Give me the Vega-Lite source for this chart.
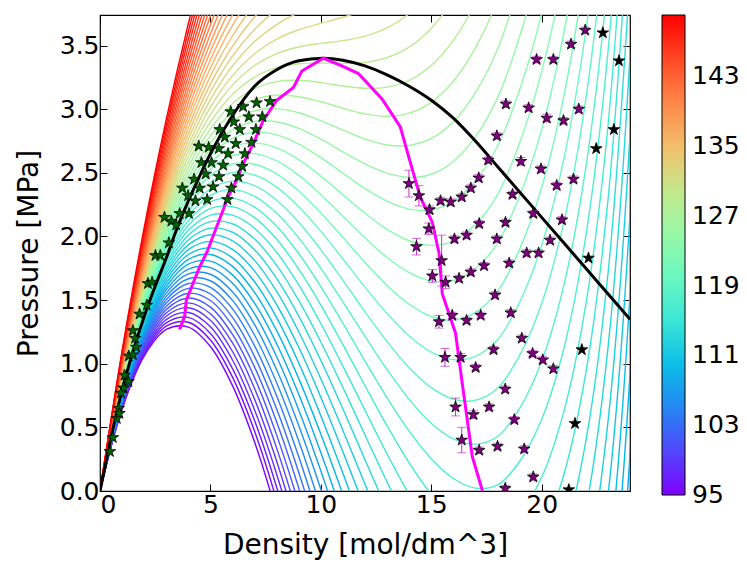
{
"$schema": "https://vega.github.io/schema/vega-lite/v6.json",
"width": 530, "height": 476,
"autosize": {"type": "none"},
"padding": {"left": 100, "top": 15, "right": 117, "bottom": 72},
"background": "white",
"config": {
 "view": {"stroke": "black", "strokeWidth": 1.2},
 "font": "DejaVu Sans",
 "axis": {"domain": false, "grid": false, "tickColor": "black", "tickSize": -7, "tickWidth": 1, "labelFont": "DejaVu Sans", "labelFontSize": 25, "labelColor": "black", "titleFont": "DejaVu Sans", "titleFontSize": 28, "titleFontWeight": "normal", "titleColor": "black"}
},
"datasets": {
"iso": [
{"T":95,"d":0,"p":0},{"T":96,"d":0,"p":0},{"T":97,"d":0,"p":0},{"T":98,"d":0,"p":0},{"T":99,"d":0,"p":0},{"T":100,"d":0,"p":0},{"T":101,"d":0,"p":0},{"T":102,"d":0,"p":0},{"T":103,"d":0,"p":0},{"T":104,"d":0,"p":0},{"T":105,"d":0,"p":0},{"T":106,"d":0,"p":0},{"T":107,"d":0,"p":0},{"T":108,"d":0,"p":0},{"T":109,"d":0,"p":0},{"T":110,"d":0,"p":0},{"T":111,"d":0,"p":0},{"T":112,"d":0,"p":0},{"T":113,"d":0,"p":0},{"T":114,"d":0,"p":0},{"T":115,"d":0,"p":0},{"T":116,"d":0,"p":0},{"T":117,"d":0,"p":0},{"T":118,"d":0,"p":0},{"T":119,"d":0,"p":0},{"T":120,"d":0,"p":0},{"T":121,"d":0,"p":0},{"T":122,"d":0,"p":0},{"T":123,"d":0,"p":0},{"T":124,"d":0,"p":0},{"T":125,"d":0,"p":0},{"T":126,"d":0,"p":0},{"T":127,"d":0,"p":0},{"T":128,"d":0,"p":0},{"T":129,"d":0,"p":0},{"T":130,"d":0,"p":0},{"T":131,"d":0,"p":0},{"T":132,"d":0,"p":0},{"T":133,"d":0,"p":0},{"T":134,"d":0,"p":0},{"T":135,"d":0,"p":0},{"T":136,"d":0,"p":0},{"T":137,"d":0,"p":0},{"T":138,"d":0,"p":0},{"T":139,"d":0,"p":0},{"T":140,"d":0,"p":0},{"T":141,"d":0,"p":0},{"T":142,"d":0,"p":0},{"T":143,"d":0,"p":0},{"T":144,"d":0,"p":0},{"T":145,"d":0,"p":0},{"T":146,"d":0,"p":0},{"T":147,"d":0,"p":0},{"T":148,"d":0,"p":0},{"T":149,"d":0,"p":0},{"T":150,"d":0,"p":0},
{"T":95,"d":1,"p":0.643},{"T":96,"d":1,"p":0.650},{"T":97,"d":1,"p":0.657},{"T":98,"d":1,"p":0.664},{"T":99,"d":1,"p":0.671},{"T":100,"d":1,"p":0.678},{"T":101,"d":1,"p":0.685},{"T":102,"d":1,"p":0.692},{"T":103,"d":1,"p":0.699},{"T":104,"d":1,"p":0.706},{"T":105,"d":1,"p":0.713},{"T":106,"d":1,"p":0.720},{"T":107,"d":1,"p":0.727},{"T":108,"d":1,"p":0.734},{"T":109,"d":1,"p":0.741},{"T":110,"d":1,"p":0.748},{"T":111,"d":1,"p":0.755},{"T":112,"d":1,"p":0.762},{"T":113,"d":1,"p":0.769},{"T":114,"d":1,"p":0.776},{"T":115,"d":1,"p":0.783},{"T":116,"d":1,"p":0.790},{"T":117,"d":1,"p":0.797},{"T":118,"d":1,"p":0.804},{"T":119,"d":1,"p":0.811},{"T":120,"d":1,"p":0.818},{"T":121,"d":1,"p":0.825},{"T":122,"d":1,"p":0.832},{"T":123,"d":1,"p":0.839},{"T":124,"d":1,"p":0.846},{"T":125,"d":1,"p":0.853},{"T":126,"d":1,"p":0.860},{"T":127,"d":1,"p":0.868},{"T":128,"d":1,"p":0.875},{"T":129,"d":1,"p":0.883},{"T":130,"d":1,"p":0.891},{"T":131,"d":1,"p":0.900},{"T":132,"d":1,"p":0.908},{"T":133,"d":1,"p":0.917},{"T":134,"d":1,"p":0.926},{"T":135,"d":1,"p":0.935},{"T":136,"d":1,"p":0.945},{"T":137,"d":1,"p":0.954},{"T":138,"d":1,"p":0.964},{"T":139,"d":1,"p":0.974},{"T":140,"d":1,"p":0.985},{"T":141,"d":1,"p":0.995},{"T":142,"d":1,"p":1.006},{"T":143,"d":1,"p":1.017},{"T":144,"d":1,"p":1.029},{"T":145,"d":1,"p":1.040},{"T":146,"d":1,"p":1.052},{"T":147,"d":1,"p":1.064},{"T":148,"d":1,"p":1.076},{"T":149,"d":1,"p":1.089},{"T":150,"d":1,"p":1.102},
{"T":95,"d":2,"p":1.060},{"T":96,"d":2,"p":1.076},{"T":97,"d":2,"p":1.091},{"T":98,"d":2,"p":1.107},{"T":99,"d":2,"p":1.123},{"T":100,"d":2,"p":1.138},{"T":101,"d":2,"p":1.154},{"T":102,"d":2,"p":1.170},{"T":103,"d":2,"p":1.185},{"T":104,"d":2,"p":1.201},{"T":105,"d":2,"p":1.217},{"T":106,"d":2,"p":1.232},{"T":107,"d":2,"p":1.248},{"T":108,"d":2,"p":1.264},{"T":109,"d":2,"p":1.280},{"T":110,"d":2,"p":1.295},{"T":111,"d":2,"p":1.311},{"T":112,"d":2,"p":1.327},{"T":113,"d":2,"p":1.342},{"T":114,"d":2,"p":1.358},{"T":115,"d":2,"p":1.374},{"T":116,"d":2,"p":1.389},{"T":117,"d":2,"p":1.405},{"T":118,"d":2,"p":1.421},{"T":119,"d":2,"p":1.436},{"T":120,"d":2,"p":1.452},{"T":121,"d":2,"p":1.468},{"T":122,"d":2,"p":1.483},{"T":123,"d":2,"p":1.499},{"T":124,"d":2,"p":1.515},{"T":125,"d":2,"p":1.530},{"T":126,"d":2,"p":1.546},{"T":127,"d":2,"p":1.563},{"T":128,"d":2,"p":1.580},{"T":129,"d":2,"p":1.597},{"T":130,"d":2,"p":1.615},{"T":131,"d":2,"p":1.633},{"T":132,"d":2,"p":1.652},{"T":133,"d":2,"p":1.671},{"T":134,"d":2,"p":1.691},{"T":135,"d":2,"p":1.711},{"T":136,"d":2,"p":1.731},{"T":137,"d":2,"p":1.752},{"T":138,"d":2,"p":1.774},{"T":139,"d":2,"p":1.796},{"T":140,"d":2,"p":1.818},{"T":141,"d":2,"p":1.841},{"T":142,"d":2,"p":1.865},{"T":143,"d":2,"p":1.888},{"T":144,"d":2,"p":1.913},{"T":145,"d":2,"p":1.938},{"T":146,"d":2,"p":1.963},{"T":147,"d":2,"p":1.989},{"T":148,"d":2,"p":2.015},{"T":149,"d":2,"p":2.042},{"T":150,"d":2,"p":2.069},
{"T":95,"d":3,"p":1.269},{"T":96,"d":3,"p":1.295},{"T":97,"d":3,"p":1.321},{"T":98,"d":3,"p":1.347},{"T":99,"d":3,"p":1.373},{"T":100,"d":3,"p":1.399},{"T":101,"d":3,"p":1.425},{"T":102,"d":3,"p":1.451},{"T":103,"d":3,"p":1.477},{"T":104,"d":3,"p":1.503},{"T":105,"d":3,"p":1.529},{"T":106,"d":3,"p":1.555},{"T":107,"d":3,"p":1.581},{"T":108,"d":3,"p":1.607},{"T":109,"d":3,"p":1.633},{"T":110,"d":3,"p":1.659},{"T":111,"d":3,"p":1.685},{"T":112,"d":3,"p":1.711},{"T":113,"d":3,"p":1.737},{"T":114,"d":3,"p":1.763},{"T":115,"d":3,"p":1.789},{"T":116,"d":3,"p":1.815},{"T":117,"d":3,"p":1.841},{"T":118,"d":3,"p":1.867},{"T":119,"d":3,"p":1.893},{"T":120,"d":3,"p":1.919},{"T":121,"d":3,"p":1.945},{"T":122,"d":3,"p":1.971},{"T":123,"d":3,"p":1.997},{"T":124,"d":3,"p":2.023},{"T":125,"d":3,"p":2.049},{"T":126,"d":3,"p":2.076},{"T":127,"d":3,"p":2.103},{"T":128,"d":3,"p":2.131},{"T":129,"d":3,"p":2.159},{"T":130,"d":3,"p":2.188},{"T":131,"d":3,"p":2.218},{"T":132,"d":3,"p":2.249},{"T":133,"d":3,"p":2.280},{"T":134,"d":3,"p":2.312},{"T":135,"d":3,"p":2.345},{"T":136,"d":3,"p":2.378},{"T":137,"d":3,"p":2.412},{"T":138,"d":3,"p":2.447},{"T":139,"d":3,"p":2.482},{"T":140,"d":3,"p":2.518},{"T":141,"d":3,"p":2.555},{"T":142,"d":3,"p":2.593},{"T":143,"d":3,"p":2.631},{"T":144,"d":3,"p":2.670},{"T":145,"d":3,"p":2.710},{"T":146,"d":3,"p":2.750},{"T":147,"d":3,"p":2.791},{"T":148,"d":3,"p":2.833},{"T":149,"d":3,"p":2.876},{"T":150,"d":3,"p":2.919},
{"T":95,"d":4,"p":1.288},{"T":96,"d":4,"p":1.326},{"T":97,"d":4,"p":1.364},{"T":98,"d":4,"p":1.402},{"T":99,"d":4,"p":1.440},{"T":100,"d":4,"p":1.478},{"T":101,"d":4,"p":1.516},{"T":102,"d":4,"p":1.554},{"T":103,"d":4,"p":1.592},{"T":104,"d":4,"p":1.630},{"T":105,"d":4,"p":1.668},{"T":106,"d":4,"p":1.706},{"T":107,"d":4,"p":1.744},{"T":108,"d":4,"p":1.782},{"T":109,"d":4,"p":1.820},{"T":110,"d":4,"p":1.858},{"T":111,"d":4,"p":1.896},{"T":112,"d":4,"p":1.934},{"T":113,"d":4,"p":1.972},{"T":114,"d":4,"p":2.010},{"T":115,"d":4,"p":2.048},{"T":116,"d":4,"p":2.086},{"T":117,"d":4,"p":2.124},{"T":118,"d":4,"p":2.162},{"T":119,"d":4,"p":2.200},{"T":120,"d":4,"p":2.238},{"T":121,"d":4,"p":2.276},{"T":122,"d":4,"p":2.314},{"T":123,"d":4,"p":2.352},{"T":124,"d":4,"p":2.390},{"T":125,"d":4,"p":2.428},{"T":126,"d":4,"p":2.467},{"T":127,"d":4,"p":2.506},{"T":128,"d":4,"p":2.546},{"T":129,"d":4,"p":2.588},{"T":130,"d":4,"p":2.630},{"T":131,"d":4,"p":2.673},{"T":132,"d":4,"p":2.717},{"T":133,"d":4,"p":2.762},{"T":134,"d":4,"p":2.808},{"T":135,"d":4,"p":2.855},{"T":136,"d":4,"p":2.903},{"T":137,"d":4,"p":2.951},{"T":138,"d":4,"p":3.001},{"T":139,"d":4,"p":3.052},{"T":140,"d":4,"p":3.103},{"T":141,"d":4,"p":3.156},{"T":142,"d":4,"p":3.209},{"T":143,"d":4,"p":3.264},{"T":144,"d":4,"p":3.319},{"T":145,"d":4,"p":3.375},{"T":146,"d":4,"p":3.432},{"T":147,"d":4,"p":3.491},{"T":148,"d":4,"p":3.550},{"T":149,"d":4,"p":3.610},{"T":150,"d":4,"p":3.671},
{"T":95,"d":5,"p":1.135},{"T":96,"d":5,"p":1.187},{"T":97,"d":5,"p":1.238},{"T":98,"d":5,"p":1.290},{"T":99,"d":5,"p":1.342},{"T":100,"d":5,"p":1.393},{"T":101,"d":5,"p":1.445},{"T":102,"d":5,"p":1.497},{"T":103,"d":5,"p":1.548},{"T":104,"d":5,"p":1.600},{"T":105,"d":5,"p":1.652},{"T":106,"d":5,"p":1.703},{"T":107,"d":5,"p":1.755},{"T":108,"d":5,"p":1.806},{"T":109,"d":5,"p":1.858},{"T":110,"d":5,"p":1.910},{"T":111,"d":5,"p":1.961},{"T":112,"d":5,"p":2.013},{"T":113,"d":5,"p":2.065},{"T":114,"d":5,"p":2.116},{"T":115,"d":5,"p":2.168},{"T":116,"d":5,"p":2.220},{"T":117,"d":5,"p":2.271},{"T":118,"d":5,"p":2.323},{"T":119,"d":5,"p":2.375},{"T":120,"d":5,"p":2.426},{"T":121,"d":5,"p":2.478},{"T":122,"d":5,"p":2.530},{"T":123,"d":5,"p":2.581},{"T":124,"d":5,"p":2.633},{"T":125,"d":5,"p":2.685},{"T":126,"d":5,"p":2.737},{"T":127,"d":5,"p":2.790},{"T":128,"d":5,"p":2.845},{"T":129,"d":5,"p":2.900},{"T":130,"d":5,"p":2.957},{"T":131,"d":5,"p":3.016},{"T":132,"d":5,"p":3.075},{"T":133,"d":5,"p":3.135},{"T":134,"d":5,"p":3.197},{"T":135,"d":5,"p":3.260},{"T":136,"d":5,"p":3.323},{"T":137,"d":5,"p":3.389},{"T":138,"d":5,"p":3.455},{"T":139,"d":5,"p":3.522},{"T":140,"d":5,"p":3.591},{"T":141,"d":5,"p":3.661},{"T":142,"d":5,"p":3.732},{"T":143,"d":5,"p":3.804},{"T":144,"d":5,"p":3.877},{"T":145,"d":5,"p":3.952},{"T":146,"d":5,"p":4.027},{"T":147,"d":5,"p":4.104},{"T":148,"d":5,"p":4.182},{"T":149,"d":5,"p":4.261},{"T":150,"d":5,"p":4.342},
{"T":95,"d":6,"p":0.828},{"T":96,"d":6,"p":0.895},{"T":97,"d":6,"p":0.962},{"T":98,"d":6,"p":1.029},{"T":99,"d":6,"p":1.096},{"T":100,"d":6,"p":1.163},{"T":101,"d":6,"p":1.230},{"T":102,"d":6,"p":1.297},{"T":103,"d":6,"p":1.364},{"T":104,"d":6,"p":1.431},{"T":105,"d":6,"p":1.498},{"T":106,"d":6,"p":1.565},{"T":107,"d":6,"p":1.632},{"T":108,"d":6,"p":1.698},{"T":109,"d":6,"p":1.765},{"T":110,"d":6,"p":1.832},{"T":111,"d":6,"p":1.899},{"T":112,"d":6,"p":1.966},{"T":113,"d":6,"p":2.033},{"T":114,"d":6,"p":2.100},{"T":115,"d":6,"p":2.167},{"T":116,"d":6,"p":2.234},{"T":117,"d":6,"p":2.301},{"T":118,"d":6,"p":2.368},{"T":119,"d":6,"p":2.435},{"T":120,"d":6,"p":2.502},{"T":121,"d":6,"p":2.569},{"T":122,"d":6,"p":2.636},{"T":123,"d":6,"p":2.703},{"T":124,"d":6,"p":2.770},{"T":125,"d":6,"p":2.837},{"T":126,"d":6,"p":2.905},{"T":127,"d":6,"p":2.974},{"T":128,"d":6,"p":3.044},{"T":129,"d":6,"p":3.116},{"T":130,"d":6,"p":3.189},{"T":131,"d":6,"p":3.264},{"T":132,"d":6,"p":3.340},{"T":133,"d":6,"p":3.417},{"T":134,"d":6,"p":3.496},{"T":135,"d":6,"p":3.577},{"T":136,"d":6,"p":3.658},{"T":137,"d":6,"p":3.741},{"T":138,"d":6,"p":3.826},{"T":139,"d":6,"p":3.912},{"T":140,"d":6,"p":3.999},{"T":141,"d":6,"p":4.088},{"T":142,"d":6,"p":4.178},{"T":143,"d":6,"p":4.270},{"T":144,"d":6,"p":4.362},{"T":145,"d":6,"p":4.457},{"T":146,"d":6,"p":4.553},{"T":147,"d":6,"p":4.650},{"T":148,"d":6,"p":4.748},{"T":149,"d":6,"p":4.848},{"T":150,"d":6,"p":4.950},
{"T":95,"d":7,"p":0.385},{"T":96,"d":7,"p":0.469},{"T":97,"d":7,"p":0.553},{"T":98,"d":7,"p":0.637},{"T":99,"d":7,"p":0.721},{"T":100,"d":7,"p":0.805},{"T":101,"d":7,"p":0.889},{"T":102,"d":7,"p":0.973},{"T":103,"d":7,"p":1.056},{"T":104,"d":7,"p":1.140},{"T":105,"d":7,"p":1.224},{"T":106,"d":7,"p":1.308},{"T":107,"d":7,"p":1.392},{"T":108,"d":7,"p":1.476},{"T":109,"d":7,"p":1.560},{"T":110,"d":7,"p":1.644},{"T":111,"d":7,"p":1.728},{"T":112,"d":7,"p":1.812},{"T":113,"d":7,"p":1.896},{"T":114,"d":7,"p":1.980},{"T":115,"d":7,"p":2.064},{"T":116,"d":7,"p":2.148},{"T":117,"d":7,"p":2.231},{"T":118,"d":7,"p":2.315},{"T":119,"d":7,"p":2.399},{"T":120,"d":7,"p":2.483},{"T":121,"d":7,"p":2.567},{"T":122,"d":7,"p":2.651},{"T":123,"d":7,"p":2.735},{"T":124,"d":7,"p":2.819},{"T":125,"d":7,"p":2.903},{"T":126,"d":7,"p":2.988},{"T":127,"d":7,"p":3.074},{"T":128,"d":7,"p":3.162},{"T":129,"d":7,"p":3.252},{"T":130,"d":7,"p":3.343},{"T":131,"d":7,"p":3.436},{"T":132,"d":7,"p":3.531},{"T":133,"d":7,"p":3.627},{"T":134,"d":7,"p":3.724},{"T":135,"d":7,"p":3.824},{"T":136,"d":7,"p":3.925},{"T":137,"d":7,"p":4.028},{"T":138,"d":7,"p":4.132},{"T":139,"d":7,"p":4.238},{"T":140,"d":7,"p":4.346},{"T":141,"d":7,"p":4.455},{"T":142,"d":7,"p":4.566},
{"T":95,"d":8,"p":-0.176},{"T":96,"d":8,"p":-0.073},{"T":97,"d":8,"p":0.029},{"T":98,"d":8,"p":0.132},{"T":99,"d":8,"p":0.234},{"T":100,"d":8,"p":0.337},{"T":101,"d":8,"p":0.439},{"T":102,"d":8,"p":0.542},{"T":103,"d":8,"p":0.644},{"T":104,"d":8,"p":0.747},{"T":105,"d":8,"p":0.850},{"T":106,"d":8,"p":0.952},{"T":107,"d":8,"p":1.055},{"T":108,"d":8,"p":1.157},{"T":109,"d":8,"p":1.260},{"T":110,"d":8,"p":1.362},{"T":111,"d":8,"p":1.465},{"T":112,"d":8,"p":1.568},{"T":113,"d":8,"p":1.670},{"T":114,"d":8,"p":1.773},{"T":115,"d":8,"p":1.875},{"T":116,"d":8,"p":1.978},{"T":117,"d":8,"p":2.080},{"T":118,"d":8,"p":2.183},{"T":119,"d":8,"p":2.285},{"T":120,"d":8,"p":2.388},{"T":121,"d":8,"p":2.491},{"T":122,"d":8,"p":2.593},{"T":123,"d":8,"p":2.696},{"T":124,"d":8,"p":2.798},{"T":125,"d":8,"p":2.901},{"T":126,"d":8,"p":3.004},{"T":127,"d":8,"p":3.110},{"T":128,"d":8,"p":3.217},{"T":129,"d":8,"p":3.326},{"T":130,"d":8,"p":3.437},{"T":131,"d":8,"p":3.550},{"T":132,"d":8,"p":3.665},{"T":133,"d":8,"p":3.781},{"T":134,"d":8,"p":3.900},{"T":135,"d":8,"p":4.020},{"T":136,"d":8,"p":4.142},
{"T":95,"d":9,"p":-0.837},{"T":96,"d":9,"p":-0.714},{"T":97,"d":9,"p":-0.591},{"T":98,"d":9,"p":-0.469},{"T":99,"d":9,"p":-0.346},{"T":100,"d":9,"p":-0.223},{"T":101,"d":9,"p":-0.100},{"T":102,"d":9,"p":0.023},{"T":103,"d":9,"p":0.146},{"T":104,"d":9,"p":0.269},{"T":105,"d":9,"p":0.392},{"T":106,"d":9,"p":0.514},{"T":107,"d":9,"p":0.637},{"T":108,"d":9,"p":0.760},{"T":109,"d":9,"p":0.883},{"T":110,"d":9,"p":1.006},{"T":111,"d":9,"p":1.129},{"T":112,"d":9,"p":1.251},{"T":113,"d":9,"p":1.374},{"T":114,"d":9,"p":1.497},{"T":115,"d":9,"p":1.620},{"T":116,"d":9,"p":1.743},{"T":117,"d":9,"p":1.866},{"T":118,"d":9,"p":1.989},{"T":119,"d":9,"p":2.111},{"T":120,"d":9,"p":2.234},{"T":121,"d":9,"p":2.357},{"T":122,"d":9,"p":2.480},{"T":123,"d":9,"p":2.603},{"T":124,"d":9,"p":2.726},{"T":125,"d":9,"p":2.849},{"T":126,"d":9,"p":2.972},{"T":127,"d":9,"p":3.098},{"T":128,"d":9,"p":3.227},{"T":129,"d":9,"p":3.357},{"T":130,"d":9,"p":3.489},{"T":131,"d":9,"p":3.624},{"T":132,"d":9,"p":3.760},{"T":133,"d":9,"p":3.899},{"T":134,"d":9,"p":4.039},
{"T":97,"d":10,"p":-1.290},{"T":98,"d":10,"p":-1.146},{"T":99,"d":10,"p":-1.001},{"T":100,"d":10,"p":-0.856},{"T":101,"d":10,"p":-0.711},{"T":102,"d":10,"p":-0.566},{"T":103,"d":10,"p":-0.422},{"T":104,"d":10,"p":-0.277},{"T":105,"d":10,"p":-0.132},{"T":106,"d":10,"p":0.013},{"T":107,"d":10,"p":0.158},{"T":108,"d":10,"p":0.302},{"T":109,"d":10,"p":0.447},{"T":110,"d":10,"p":0.592},{"T":111,"d":10,"p":0.737},{"T":112,"d":10,"p":0.882},{"T":113,"d":10,"p":1.026},{"T":114,"d":10,"p":1.171},{"T":115,"d":10,"p":1.316},{"T":116,"d":10,"p":1.461},{"T":117,"d":10,"p":1.606},{"T":118,"d":10,"p":1.750},{"T":119,"d":10,"p":1.895},{"T":120,"d":10,"p":2.040},{"T":121,"d":10,"p":2.185},{"T":122,"d":10,"p":2.330},{"T":123,"d":10,"p":2.474},{"T":124,"d":10,"p":2.619},{"T":125,"d":10,"p":2.764},{"T":126,"d":10,"p":2.910},{"T":127,"d":10,"p":3.058},{"T":128,"d":10,"p":3.209},{"T":129,"d":10,"p":3.362},{"T":130,"d":10,"p":3.517},{"T":131,"d":10,"p":3.675},{"T":132,"d":10,"p":3.835},
{"T":102,"d":11,"p":-1.208},{"T":103,"d":11,"p":-1.040},{"T":104,"d":11,"p":-0.871},{"T":105,"d":11,"p":-0.703},{"T":106,"d":11,"p":-0.535},{"T":107,"d":11,"p":-0.366},{"T":108,"d":11,"p":-0.198},{"T":109,"d":11,"p":-0.029},{"T":110,"d":11,"p":0.139},{"T":111,"d":11,"p":0.308},{"T":112,"d":11,"p":0.476},{"T":113,"d":11,"p":0.644},{"T":114,"d":11,"p":0.813},{"T":115,"d":11,"p":0.981},{"T":116,"d":11,"p":1.150},{"T":117,"d":11,"p":1.318},{"T":118,"d":11,"p":1.486},{"T":119,"d":11,"p":1.655},{"T":120,"d":11,"p":1.823},{"T":121,"d":11,"p":1.992},{"T":122,"d":11,"p":2.160},{"T":123,"d":11,"p":2.328},{"T":124,"d":11,"p":2.497},{"T":125,"d":11,"p":2.665},{"T":126,"d":11,"p":2.835},{"T":127,"d":11,"p":3.007},{"T":128,"d":11,"p":3.182},{"T":129,"d":11,"p":3.360},{"T":130,"d":11,"p":3.539},{"T":131,"d":11,"p":3.722},
{"T":106,"d":12,"p":-1.110},{"T":107,"d":12,"p":-0.916},{"T":108,"d":12,"p":-0.722},{"T":109,"d":12,"p":-0.529},{"T":110,"d":12,"p":-0.335},{"T":111,"d":12,"p":-0.141},{"T":112,"d":12,"p":0.053},{"T":113,"d":12,"p":0.246},{"T":114,"d":12,"p":0.440},{"T":115,"d":12,"p":0.634},{"T":116,"d":12,"p":0.827},{"T":117,"d":12,"p":1.021},{"T":118,"d":12,"p":1.215},{"T":119,"d":12,"p":1.408},{"T":120,"d":12,"p":1.602},{"T":121,"d":12,"p":1.796},{"T":122,"d":12,"p":1.989},{"T":123,"d":12,"p":2.183},{"T":124,"d":12,"p":2.377},{"T":125,"d":12,"p":2.570},{"T":126,"d":12,"p":2.766},{"T":127,"d":12,"p":2.963},{"T":128,"d":12,"p":3.164},{"T":129,"d":12,"p":3.368},{"T":130,"d":12,"p":3.574},{"T":131,"d":12,"p":3.783},
{"T":108,"d":13,"p":-1.253},{"T":109,"d":13,"p":-1.032},{"T":110,"d":13,"p":-0.812},{"T":111,"d":13,"p":-0.591},{"T":112,"d":13,"p":-0.371},{"T":113,"d":13,"p":-0.150},{"T":114,"d":13,"p":0.071},{"T":115,"d":13,"p":0.291},{"T":116,"d":13,"p":0.512},{"T":117,"d":13,"p":0.732},{"T":118,"d":13,"p":0.953},{"T":119,"d":13,"p":1.174},{"T":120,"d":13,"p":1.394},{"T":121,"d":13,"p":1.615},{"T":122,"d":13,"p":1.835},{"T":123,"d":13,"p":2.056},{"T":124,"d":13,"p":2.277},{"T":125,"d":13,"p":2.497},{"T":126,"d":13,"p":2.719},{"T":127,"d":13,"p":2.945},{"T":128,"d":13,"p":3.173},{"T":129,"d":13,"p":3.404},{"T":130,"d":13,"p":3.638},{"T":131,"d":13,"p":3.876},
{"T":108,"d":14,"p":-1.772},{"T":109,"d":14,"p":-1.523},{"T":110,"d":14,"p":-1.274},{"T":111,"d":14,"p":-1.025},{"T":112,"d":14,"p":-0.776},{"T":113,"d":14,"p":-0.526},{"T":114,"d":14,"p":-0.277},{"T":115,"d":14,"p":-0.028},{"T":116,"d":14,"p":0.221},{"T":117,"d":14,"p":0.470},{"T":118,"d":14,"p":0.720},{"T":119,"d":14,"p":0.969},{"T":120,"d":14,"p":1.218},{"T":121,"d":14,"p":1.467},{"T":122,"d":14,"p":1.716},{"T":123,"d":14,"p":1.966},{"T":124,"d":14,"p":2.215},{"T":125,"d":14,"p":2.464},{"T":126,"d":14,"p":2.715},{"T":127,"d":14,"p":2.969},{"T":128,"d":14,"p":3.226},{"T":129,"d":14,"p":3.487},{"T":130,"d":14,"p":3.751},
{"T":108,"d":15,"p":-2.262},{"T":109,"d":15,"p":-1.983},{"T":110,"d":15,"p":-1.703},{"T":111,"d":15,"p":-1.424},{"T":112,"d":15,"p":-1.144},{"T":113,"d":15,"p":-0.865},{"T":114,"d":15,"p":-0.585},{"T":115,"d":15,"p":-0.306},{"T":116,"d":15,"p":-0.026},{"T":117,"d":15,"p":0.253},{"T":118,"d":15,"p":0.532},{"T":119,"d":15,"p":0.812},{"T":120,"d":15,"p":1.091},{"T":121,"d":15,"p":1.371},{"T":122,"d":15,"p":1.650},{"T":123,"d":15,"p":1.930},{"T":124,"d":15,"p":2.209},{"T":125,"d":15,"p":2.489},{"T":126,"d":15,"p":2.770},{"T":127,"d":15,"p":3.054},{"T":128,"d":15,"p":3.343},{"T":129,"d":15,"p":3.634},{"T":130,"d":15,"p":3.930},
{"T":108,"d":16,"p":-2.704},{"T":109,"d":16,"p":-2.393},{"T":110,"d":16,"p":-2.082},{"T":111,"d":16,"p":-1.770},{"T":112,"d":16,"p":-1.459},{"T":113,"d":16,"p":-1.148},{"T":114,"d":16,"p":-0.836},{"T":115,"d":16,"p":-0.525},{"T":116,"d":16,"p":-0.213},{"T":117,"d":16,"p":0.098},{"T":118,"d":16,"p":0.409},{"T":119,"d":16,"p":0.721},{"T":120,"d":16,"p":1.032},{"T":121,"d":16,"p":1.343},{"T":122,"d":16,"p":1.655},{"T":123,"d":16,"p":1.966},{"T":124,"d":16,"p":2.277},{"T":125,"d":16,"p":2.589},{"T":126,"d":16,"p":2.902},{"T":127,"d":16,"p":3.219},{"T":128,"d":16,"p":3.540},{"T":129,"d":16,"p":3.864},
{"T":108,"d":17,"p":-3.081},{"T":109,"d":17,"p":-2.736},{"T":110,"d":17,"p":-2.391},{"T":111,"d":17,"p":-2.046},{"T":112,"d":17,"p":-1.701},{"T":113,"d":17,"p":-1.356},{"T":114,"d":17,"p":-1.011},{"T":115,"d":17,"p":-0.666},{"T":116,"d":17,"p":-0.321},{"T":117,"d":17,"p":0.023},{"T":118,"d":17,"p":0.368},{"T":119,"d":17,"p":0.713},{"T":120,"d":17,"p":1.058},{"T":121,"d":17,"p":1.403},{"T":122,"d":17,"p":1.748},{"T":123,"d":17,"p":2.093},{"T":124,"d":17,"p":2.438},{"T":125,"d":17,"p":2.783},{"T":126,"d":17,"p":3.130},{"T":127,"d":17,"p":3.481},{"T":128,"d":17,"p":3.836},{"T":129,"d":17,"p":4.194},
{"T":108,"d":18,"p":-3.374},{"T":109,"d":18,"p":-2.994},{"T":110,"d":18,"p":-2.614},{"T":111,"d":18,"p":-2.233},{"T":112,"d":18,"p":-1.853},{"T":113,"d":18,"p":-1.473},{"T":114,"d":18,"p":-1.093},{"T":115,"d":18,"p":-0.713},{"T":116,"d":18,"p":-0.333},{"T":117,"d":18,"p":0.048},{"T":118,"d":18,"p":0.428},{"T":119,"d":18,"p":0.808},{"T":120,"d":18,"p":1.188},{"T":121,"d":18,"p":1.568},{"T":122,"d":18,"p":1.948},{"T":123,"d":18,"p":2.329},{"T":124,"d":18,"p":2.709},{"T":125,"d":18,"p":3.089},{"T":126,"d":18,"p":3.471},{"T":127,"d":18,"p":3.858},{"T":128,"d":18,"p":4.248},
{"T":108,"d":19,"p":-3.521},{"T":109,"d":19,"p":-3.105},{"T":110,"d":19,"p":-2.687},{"T":111,"d":19,"p":-2.270},{"T":112,"d":19,"p":-1.853},{"T":113,"d":19,"p":-1.436},{"T":114,"d":19,"p":-1.019},{"T":115,"d":19,"p":-0.602},{"T":116,"d":19,"p":-0.185},{"T":117,"d":19,"p":0.232},{"T":118,"d":19,"p":0.649},{"T":119,"d":19,"p":1.066},{"T":120,"d":19,"p":1.483},{"T":121,"d":19,"p":1.900},{"T":122,"d":19,"p":2.317},{"T":123,"d":19,"p":2.734},{"T":124,"d":19,"p":3.151},{"T":125,"d":19,"p":3.569},{"T":126,"d":19,"p":3.988},{"T":127,"d":19,"p":4.412},
{"T":108,"d":20,"p":-3.537},{"T":109,"d":20,"p":-3.082},{"T":110,"d":20,"p":-2.626},{"T":111,"d":20,"p":-2.170},{"T":112,"d":20,"p":-1.715},{"T":113,"d":20,"p":-1.259},{"T":114,"d":20,"p":-0.804},{"T":115,"d":20,"p":-0.348},{"T":116,"d":20,"p":0.108},{"T":117,"d":20,"p":0.563},{"T":118,"d":20,"p":1.019},{"T":119,"d":20,"p":1.474},{"T":120,"d":20,"p":1.930},{"T":121,"d":20,"p":2.386},{"T":122,"d":20,"p":2.841},{"T":123,"d":20,"p":3.297},{"T":124,"d":20,"p":3.752},{"T":125,"d":20,"p":4.208},{"T":126,"d":20,"p":4.666},
{"T":108,"d":21,"p":-3.345},{"T":109,"d":21,"p":-2.849},{"T":110,"d":21,"p":-2.353},{"T":111,"d":21,"p":-1.857},{"T":112,"d":21,"p":-1.361},{"T":113,"d":21,"p":-0.866},{"T":114,"d":21,"p":-0.370},{"T":115,"d":21,"p":0.126},{"T":116,"d":21,"p":0.622},{"T":117,"d":21,"p":1.118},{"T":118,"d":21,"p":1.613},{"T":119,"d":21,"p":2.109},{"T":120,"d":21,"p":2.605},{"T":121,"d":21,"p":3.101},{"T":122,"d":21,"p":3.597},{"T":123,"d":21,"p":4.092},{"T":124,"d":21,"p":4.588},{"T":125,"d":21,"p":5.084},
{"T":108,"d":22,"p":-2.834},{"T":109,"d":22,"p":-2.297},{"T":110,"d":22,"p":-1.759},{"T":111,"d":22,"p":-1.221},{"T":112,"d":22,"p":-0.683},{"T":113,"d":22,"p":-0.146},{"T":114,"d":22,"p":0.392},{"T":115,"d":22,"p":0.930},{"T":116,"d":22,"p":1.467},{"T":117,"d":22,"p":2.005},{"T":118,"d":22,"p":2.543},{"T":119,"d":22,"p":3.080},{"T":120,"d":22,"p":3.618},{"T":121,"d":22,"p":4.156},{"T":122,"d":22,"p":4.693},{"T":123,"d":22,"p":5.231},
{"T":108,"d":23,"p":-1.785},{"T":109,"d":23,"p":-1.204},{"T":110,"d":23,"p":-0.623},{"T":111,"d":23,"p":-0.042},{"T":112,"d":23,"p":0.540},{"T":113,"d":23,"p":1.121},{"T":114,"d":23,"p":1.702},{"T":115,"d":23,"p":2.283},{"T":116,"d":23,"p":2.864},{"T":117,"d":23,"p":3.446},{"T":118,"d":23,"p":4.027},{"T":119,"d":23,"p":4.608},{"T":120,"d":23,"p":5.189},{"T":121,"d":23,"p":5.770},{"T":122,"d":23,"p":6.352},
{"T":108,"d":24,"p":0.291},{"T":109,"d":24,"p":0.918},{"T":110,"d":24,"p":1.544},{"T":111,"d":24,"p":2.170},{"T":112,"d":24,"p":2.797},{"T":113,"d":24,"p":3.423},{"T":114,"d":24,"p":4.050},{"T":115,"d":24,"p":4.676},{"T":116,"d":24,"p":5.303},{"T":117,"d":24,"p":5.929},{"T":118,"d":24,"p":6.555},{"T":119,"d":24,"p":7.182},{"T":120,"d":24,"p":7.808},
{"T":108,"d":25,"p":4.461},{"T":109,"d":25,"p":5.135},{"T":110,"d":25,"p":5.808},{"T":111,"d":25,"p":6.481},{"T":112,"d":25,"p":7.154},{"T":113,"d":25,"p":7.828}
],
"blk": [
{"d":0,"p":0},{"d":0.3,"p":0.25},{"d":0.6,"p":0.5},{"d":1.0,"p":0.79},{"d":1.5,"p":1.1},{"d":2.0,"p":1.37},{"d":2.5,"p":1.61},{"d":3.0,"p":1.83},{"d":3.5,"p":2.07},{"d":4.0,"p":2.28},{"d":4.5,"p":2.47},{"d":5.0,"p":2.65},{"d":6.0,"p":2.95},{"d":7.0,"p":3.18},{"d":8.0,"p":3.31},{"d":9.0,"p":3.38},{"d":10.1,"p":3.40},{"d":11.0,"p":3.385},{"d":12.0,"p":3.34},{"d":13.0,"p":3.27},{"d":14.0,"p":3.18},{"d":15.0,"p":3.07},{"d":16.0,"p":2.93},{"d":17.0,"p":2.75},{"d":18.0,"p":2.55},{"d":19.0,"p":2.35},{"d":20.0,"p":2.15},{"d":21.0,"p":1.95},{"d":22.0,"p":1.75},{"d":23.0,"p":1.55},{"d":24.0,"p":1.35}
],
"mag": [
{"d":3.6,"p":1.27},{"d":3.83,"p":1.37},{"d":3.91,"p":1.5},{"d":4.21,"p":1.63},{"d":4.51,"p":1.76},{"d":4.85,"p":1.88},{"d":5.27,"p":2.07},{"d":5.8,"p":2.31},{"d":6.18,"p":2.44},{"d":6.48,"p":2.57},{"d":6.94,"p":2.73},{"d":7.39,"p":2.91},{"d":8.0,"p":3.07},{"d":8.76,"p":3.17},{"d":9.14,"p":3.30},{"d":10.12,"p":3.40},{"d":10.95,"p":3.34},{"d":11.7,"p":3.28},{"d":12.77,"p":3.08},{"d":13.6,"p":2.86},{"d":13.99,"p":2.62},{"d":14.5,"p":2.31},{"d":15.05,"p":2.11},{"d":15.35,"p":1.87},{"d":15.5,"p":1.55},{"d":16.1,"p":1.24},{"d":16.4,"p":0.85},{"d":16.86,"p":0.27},{"d":17.32,"p":0.0}
],
"gst": [
{"d":7.70,"p":3.06},{"d":7.09,"p":3.05},{"d":6.48,"p":3.02},{"d":5.92,"p":2.98},{"d":7.35,"p":2.94},{"d":6.74,"p":2.94},{"d":6.06,"p":2.90},{"d":7.06,"p":2.84},{"d":6.33,"p":2.84},{"d":5.42,"p":2.84},{"d":5.65,"p":2.78},{"d":6.86,"p":2.74},{"d":6.15,"p":2.73},{"d":4.47,"p":2.71},{"d":4.92,"p":2.70},{"d":5.38,"p":2.69},{"d":6.56,"p":2.65},{"d":5.8,"p":2.65},{"d":4.59,"p":2.58},{"d":5.05,"p":2.58},{"d":6.44,"p":2.55},{"d":5.58,"p":2.56},{"d":4.79,"p":2.49},{"d":4.26,"p":2.45},{"d":5.39,"p":2.47},{"d":6.26,"p":2.47},{"d":3.73,"p":2.38},{"d":5.12,"p":2.39},{"d":4.51,"p":2.38},{"d":5.95,"p":2.38},{"d":3.99,"p":2.32},{"d":4.32,"p":2.28},{"d":4.85,"p":2.29},{"d":5.77,"p":2.29},{"d":3.61,"p":2.18},{"d":4.03,"p":2.18},{"d":2.92,"p":2.15},{"d":3.23,"p":2.12},{"d":3.45,"p":2.09},{"d":3.12,"p":1.95},{"d":2.51,"p":1.85},{"d":2.73,"p":1.85},{"d":2.17,"p":1.63},{"d":2.36,"p":1.64},{"d":2.12,"p":1.46},{"d":1.79,"p":1.39},{"d":1.49,"p":1.26},{"d":1.59,"p":1.20},{"d":1.64,"p":1.13},{"d":1.30,"p":1.06},{"d":1.49,"p":1.07},{"d":1.11,"p":0.91},{"d":1.29,"p":0.86},{"d":1.06,"p":0.81},{"d":0.95,"p":0.77},{"d":0.85,"p":0.65},{"d":0.76,"p":0.57},{"d":0.88,"p":0.61},{"d":0.58,"p":0.42},{"d":0.45,"p":0.31}
],
"pst": [
{"d":21.97,"p":3.62,"lo":3.595,"hi":3.645},{"d":21.33,"p":3.51,"lo":3.485,"hi":3.535},{"d":19.77,"p":3.39,"lo":3.365,"hi":3.415},{"d":20.53,"p":3.39,"lo":3.365,"hi":3.415},{"d":18.38,"p":3.04,"lo":3.015,"hi":3.065},{"d":19.41,"p":3.01,"lo":2.985,"hi":3.035},{"d":20.23,"p":2.93,"lo":2.9,"hi":2.96},{"d":20.99,"p":2.91,"lo":2.885,"hi":2.935},{"d":21.68,"p":3.00,"lo":2.975,"hi":3.025},{"d":17.97,"p":2.79,"lo":2.765,"hi":2.815},{"d":17.58,"p":2.60,"lo":2.575,"hi":2.625},{"d":19.06,"p":2.59,"lo":2.56,"hi":2.62},{"d":19.97,"p":2.53,"lo":2.505,"hi":2.555},{"d":17.15,"p":2.46,"lo":2.435,"hi":2.485},{"d":21.44,"p":2.45,"lo":2.425,"hi":2.475},{"d":20.68,"p":2.40,"lo":2.375,"hi":2.425},{"d":16.79,"p":2.38,"lo":2.355,"hi":2.405},{"d":18.68,"p":2.33,"lo":2.305,"hi":2.355},{"d":13.99,"p":2.415,"lo":2.31,"hi":2.52},{"d":14.44,"p":2.32,"lo":2.24,"hi":2.40},{"d":16.38,"p":2.31,"lo":2.285,"hi":2.335},{"d":15.42,"p":2.28,"lo":2.255,"hi":2.305},{"d":15.88,"p":2.27,"lo":2.245,"hi":2.295},{"d":14.92,"p":2.21,"lo":2.18,"hi":2.24},{"d":19.62,"p":2.18,"lo":2.155,"hi":2.205},{"d":18.36,"p":2.11,"lo":2.085,"hi":2.135},{"d":20.92,"p":2.13,"lo":2.105,"hi":2.155},{"d":17.17,"p":2.10,"lo":2.075,"hi":2.125},{"d":14.89,"p":2.06,"lo":2.015,"hi":2.105},{"d":16.05,"p":1.98,"lo":1.955,"hi":2.005},{"d":16.6,"p":2.01,"lo":1.985,"hi":2.035},{"d":17.97,"p":1.98,"lo":1.955,"hi":2.005},{"d":20.38,"p":1.97,"lo":1.945,"hi":1.995},{"d":14.33,"p":1.92,"lo":1.855,"hi":1.985},{"d":19.32,"p":1.87,"lo":1.845,"hi":1.895},{"d":19.86,"p":1.87,"lo":1.845,"hi":1.895},{"d":15.47,"p":1.81,"lo":1.61,"hi":2.01},{"d":18.53,"p":1.79,"lo":1.765,"hi":1.815},{"d":17.39,"p":1.77,"lo":1.745,"hi":1.795},{"d":16.79,"p":1.72,"lo":1.695,"hi":1.745},{"d":16.26,"p":1.67,"lo":1.645,"hi":1.695},{"d":15.05,"p":1.69,"lo":1.64,"hi":1.74},{"d":15.65,"p":1.64,"lo":1.59,"hi":1.69},{"d":17.89,"p":1.54,"lo":1.515,"hi":1.565},{"d":18.6,"p":1.40,"lo":1.375,"hi":1.425},{"d":17.24,"p":1.38,"lo":1.355,"hi":1.405},{"d":15.95,"p":1.38,"lo":1.355,"hi":1.405},{"d":16.6,"p":1.34,"lo":1.315,"hi":1.365},{"d":15.35,"p":1.33,"lo":1.28,"hi":1.38},{"d":19.1,"p":1.20,"lo":1.175,"hi":1.225},{"d":17.82,"p":1.11,"lo":1.085,"hi":1.135},{"d":15.62,"p":1.05,"lo":0.98,"hi":1.12},{"d":16.33,"p":1.05,"lo":1.02,"hi":1.08},{"d":19.59,"p":1.08,"lo":1.055,"hi":1.105},{"d":20.05,"p":1.03,"lo":1.005,"hi":1.055},{"d":20.53,"p":0.96,"lo":0.935,"hi":0.985},{"d":17.01,"p":0.97,"lo":0.945,"hi":0.995},{"d":18.35,"p":0.80,"lo":0.775,"hi":0.825},{"d":16.1,"p":0.66,"lo":0.59,"hi":0.73},{"d":17.62,"p":0.66,"lo":0.635,"hi":0.685},{"d":16.91,"p":0.60,"lo":0.57,"hi":0.63},{"d":18.76,"p":0.56,"lo":0.535,"hi":0.585},{"d":16.38,"p":0.40,"lo":0.30,"hi":0.50},{"d":17.17,"p":0.32,"lo":0.295,"hi":0.345},{"d":18.0,"p":0.35,"lo":0.325,"hi":0.375},{"d":19.21,"p":0.33,"lo":0.305,"hi":0.355},{"d":19.62,"p":0.11,"lo":0.085,"hi":0.135},{"d":18.35,"p":0.02,"lo":0.0,"hi":0.045}
],
"kst": [
{"d":22.77,"p":3.60},{"d":23.5,"p":3.38},{"d":23.27,"p":2.84},{"d":22.47,"p":2.69},{"d":22.12,"p":1.83},{"d":21.82,"p":1.11},{"d":21.51,"p":0.53},{"d":21.23,"p":0.01}
]
},
"layer": [
{"data": {"name": "iso"},
 "mark": {"type": "line", "interpolate": "catmull-rom", "strokeWidth": 1.4, "clip": true},
 "encoding": {
  "x": {"field": "d", "type": "quantitative", "scale": {"domain": [0, 24], "nice": false, "zero": false}, "axis": {"values": [0, 5, 10, 15, 20], "title": "Density [mol/dm^3]", "labelPadding": 8, "titlePadding": 14}},
  "y": {"field": "p", "type": "quantitative", "scale": {"domain": [0, 3.74], "nice": false, "zero": false}, "axis": {"values": [0, 0.5, 1, 1.5, 2, 2.5, 3, 3.5], "format": ".1f", "title": "Pressure [MPa]", "labelPadding": 8, "titlePadding": 16}},
  "color": {"field": "T", "type": "quantitative",
   "scale": {"domain": [95, 101.875, 108.75, 115.625, 122.5, 129.375, 136.25, 143.125, 150], "range": ["#7f00ff", "#4062fa", "#00b4ec", "#40ecd4", "#80ffb4", "#bfec8e", "#ffb462", "#ff6232", "#ff0000"], "interpolate": "rgb"},
   "legend": {"orient": "none", "legendX": 562, "legendY": 0, "direction": "vertical", "gradientLength": 480, "gradientThickness": 23, "values": [95, 103, 111, 119, 127, 135, 143], "title": null, "labelFontSize": 25, "labelFont": "DejaVu Sans", "labelColor": "black", "labelOffset": 7, "gradientStrokeColor": "black", "gradientStrokeWidth": 1, "padding": 0, "labelOverlap": false, "encode": {"labels": {"update": {"baseline": {"value": "middle"}}}}}},
  "detail": {"field": "T", "type": "nominal"}
 }},
{"data": {"name": "blk"},
 "mark": {"type": "line", "color": "black", "strokeWidth": 3, "interpolate": "monotone", "clip": true},
 "encoding": {
  "x": {"field": "d", "type": "quantitative", "scale": {"domain": [0, 24], "nice": false, "zero": false}, "axis": {"orient": "top", "values": [0, 5, 10, 15, 20], "labels": false, "title": null}},
  "y": {"field": "p", "type": "quantitative", "scale": {"domain": [0, 3.74], "nice": false, "zero": false}, "axis": {"orient": "right", "values": [0, 0.5, 1, 1.5, 2, 2.5, 3, 3.5], "labels": false, "title": null}}
 }},
{"data": {"name": "mag"},
 "mark": {"type": "line", "color": "#ff00ff", "strokeWidth": 3, "clip": true},
 "encoding": {
  "x": {"field": "d", "type": "quantitative", "scale": {"domain": [0, 24], "nice": false, "zero": false}, "axis": null},
  "y": {"field": "p", "type": "quantitative", "scale": {"domain": [0, 3.74], "nice": false, "zero": false}, "axis": null}
 }},
{"data": {"name": "pst"},
 "mark": {"type": "errorbar", "ticks": {"size": 9}, "color": "#c030c0"},
 "encoding": {
  "x": {"field": "d", "type": "quantitative", "scale": {"domain": [0, 24], "nice": false, "zero": false}, "axis": null},
  "y": {"field": "lo", "type": "quantitative", "scale": {"domain": [0, 3.74], "nice": false, "zero": false}, "axis": null},
  "y2": {"field": "hi"}
 }},
{"data": {"name": "gst"},
 "mark": {"type": "point", "shape": "M0,-1L0.225,-0.309L0.951,-0.309L0.363,0.118L0.588,0.809L0,0.382L-0.588,0.809L-0.363,0.118L-0.951,-0.309L-0.225,-0.309Z", "filled": true, "fill": "#006400", "stroke": "black", "strokeWidth": 0.8, "size": 150, "opacity": 1, "clip": true},
 "encoding": {
  "x": {"field": "d", "type": "quantitative", "scale": {"domain": [0, 24], "nice": false, "zero": false}, "axis": null},
  "y": {"field": "p", "type": "quantitative", "scale": {"domain": [0, 3.74], "nice": false, "zero": false}, "axis": null}
 }},
{"data": {"name": "pst"},
 "mark": {"type": "point", "shape": "M0,-1L0.225,-0.309L0.951,-0.309L0.363,0.118L0.588,0.809L0,0.382L-0.588,0.809L-0.363,0.118L-0.951,-0.309L-0.225,-0.309Z", "filled": true, "fill": "#800080", "stroke": "black", "strokeWidth": 0.8, "size": 150, "opacity": 1, "clip": true},
 "encoding": {
  "x": {"field": "d", "type": "quantitative", "scale": {"domain": [0, 24], "nice": false, "zero": false}, "axis": null},
  "y": {"field": "p", "type": "quantitative", "scale": {"domain": [0, 3.74], "nice": false, "zero": false}, "axis": null}
 }},
{"data": {"name": "kst"},
 "mark": {"type": "point", "shape": "M0,-1L0.225,-0.309L0.951,-0.309L0.363,0.118L0.588,0.809L0,0.382L-0.588,0.809L-0.363,0.118L-0.951,-0.309L-0.225,-0.309Z", "filled": true, "fill": "black", "stroke": "black", "strokeWidth": 0.8, "size": 150, "opacity": 1, "clip": true},
 "encoding": {
  "x": {"field": "d", "type": "quantitative", "scale": {"domain": [0, 24], "nice": false, "zero": false}, "axis": null},
  "y": {"field": "p", "type": "quantitative", "scale": {"domain": [0, 3.74], "nice": false, "zero": false}, "axis": null}
 }}
],
"resolve": {"axis": {"x": "independent", "y": "independent"}}
}
